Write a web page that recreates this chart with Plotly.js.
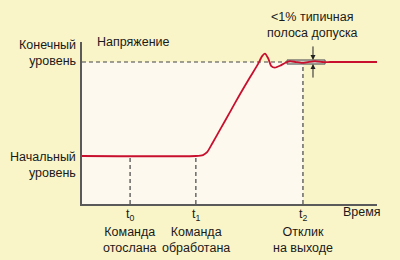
<!DOCTYPE html>
<html><head><meta charset="utf-8">
<script src="https://cdn.plot.ly/plotly-3.0.1.min.js"></script>
<style>html,body{margin:0;padding:0;background:#FAF5C9;}#c{width:400px;height:260px;}</style>
</head><body><div id="c"></div>
<script>
// Levels (0 = initial, 1 = final)
const levelInitial = 0;
const levelFinal = 1;
// Time markers
const tNames = ["t<sub>0</sub>", "t<sub>1</sub>", "t<sub>2</sub>"];
const tValues = [1.63, 3.86, 7.49];
const tCaptions = ["Команда<br>отослана", "Команда<br>обработана", "Отклик<br>на выходе"];
// Response curve
const curveT = [0, 3.86, 4.1, 4.24, 4.41, 4.68, 5.02, 5.36, 5.7, 5.97, 6.1, 6.2, 6.31, 6.41, 6.54, 6.71, 6.88, 7.05, 7.25, 7.46, 7.66, 7.9, 8.14, 8.41, 10];
const curveV = [0, 0, 0.01, 0.04, 0.13, 0.28, 0.47, 0.66, 0.84, 0.98, 1.06, 1.09, 1.04, 0.96, 0.94, 0.96, 0.99, 1.01, 1.0, 0.99, 1.0, 1.01, 1.0, 1.0, 1.0];
// Tolerance band
const bandT = [6.95, 8.24];
const bandHalf = 0.022;
const bandArrowT = 7.83;

const font = {family: "Liberation Sans, Arial, sans-serif", size: 12.5, color: "#1a1a1a"};
const yMin = -0.511, yMax = 1.213;

const shapes = [
  {type: "rect", xref: "x", yref: "y", x0: 0, x1: tValues[2], y0: yMin, y1: levelFinal, fillcolor: "#FDF9EE", line: {width: 0}, layer: "below"},
  {type: "line", xref: "x", yref: "y", x0: 0, x1: bandT[0], y0: levelFinal, y1: levelFinal, line: {color: "#444", width: 1.2, dash: "4px,3px"}, layer: "below"},
  {type: "line", xref: "x", yref: "y", x0: tValues[0], x1: tValues[0], y0: yMin, y1: levelInitial, line: {color: "#444", width: 1.2, dash: "4px,3px"}, layer: "below"},
  {type: "line", xref: "x", yref: "y", x0: tValues[1], x1: tValues[1], y0: yMin, y1: levelInitial, line: {color: "#444", width: 1.2, dash: "4px,3px"}, layer: "below"},
  {type: "line", xref: "x", yref: "y", x0: tValues[2], x1: tValues[2], y0: yMin, y1: levelFinal, line: {color: "#444", width: 1.2, dash: "4px,3px"}, layer: "below"},
  {type: "rect", xref: "x", yref: "y", x0: bandT[0], x1: bandT[1], y0: levelFinal - bandHalf, y1: levelFinal + bandHalf, fillcolor: "#C9C6BC", line: {color: "#555", width: 1}, layer: "below"}
];

const annotations = [
  {xref: "x", yref: "y", x: bandArrowT, y: levelFinal + bandHalf, ax: 0, ay: -15, showarrow: true, arrowhead: 2, arrowsize: 1, arrowwidth: 1, arrowcolor: "#222", text: ""},
  {xref: "x", yref: "y", x: bandArrowT, y: levelFinal - bandHalf, ax: 0, ay: 15, showarrow: true, arrowhead: 2, arrowsize: 1, arrowwidth: 1, arrowcolor: "#222", text: ""},
  {xref: "paper", yref: "y", x: 0, xshift: -4, y: levelFinal, yanchor: "bottom", yshift: -8, xanchor: "right", align: "right", showarrow: false, text: "Конечный<br>уровень", font: font},
  {xref: "paper", yref: "y", x: 0, xshift: -4, y: levelInitial, yanchor: "top", yshift: 8, xanchor: "right", align: "right", showarrow: false, text: "Начальный<br>уровень", font: font},
  {xref: "x", yref: "paper", x: 0.45, y: 1, yshift: 0, xanchor: "left", yanchor: "middle", showarrow: false, text: "Напряжение", font: font},
  {xref: "x", yref: "paper", x: bandArrowT, y: 1, yshift: 0, xanchor: "center", yanchor: "bottom", showarrow: false, text: "&lt;1% типичная<br>полоса допуска", font: font},
  {xref: "x", yref: "paper", x: 9.5, y: 0, yshift: -8, xanchor: "center", yanchor: "middle", showarrow: false, text: "Время", font: font}
];
tValues.forEach((t, i) => {
  annotations.push({xref: "x", yref: "paper", x: t, y: 0, yshift: -11, xanchor: "center", yanchor: "middle", showarrow: false, text: tNames[i], font: font});
  annotations.push({xref: "x", yref: "paper", x: t, y: 0, yshift: -36, xanchor: "center", yanchor: "middle", showarrow: false, text: tCaptions[i], font: font});
});

Plotly.newPlot("c", [{
  x: curveT, y: curveV, type: "scatter", mode: "lines",
  line: {color: "#C8102E", width: 1.8, shape: "spline", smoothing: 0.5},
  hoverinfo: "skip"
}], {
  width: 400, height: 260,
  margin: {l: 82, r: 23, t: 42, b: 56},
  paper_bgcolor: "#FAF5C9", plot_bgcolor: "rgba(0,0,0,0)",
  showlegend: false,
  xaxis: {range: [0, 10], showgrid: false, zeroline: false, showticklabels: false, ticks: "", showline: true, linecolor: "#5a5a5a", linewidth: 2, fixedrange: true},
  yaxis: {range: [yMin, yMax], showgrid: false, zeroline: false, showticklabels: false, ticks: "", showline: true, linecolor: "#5a5a5a", linewidth: 2, fixedrange: true},
  shapes: shapes, annotations: annotations
}, {displayModeBar: false, staticPlot: true});
</script></body></html>
